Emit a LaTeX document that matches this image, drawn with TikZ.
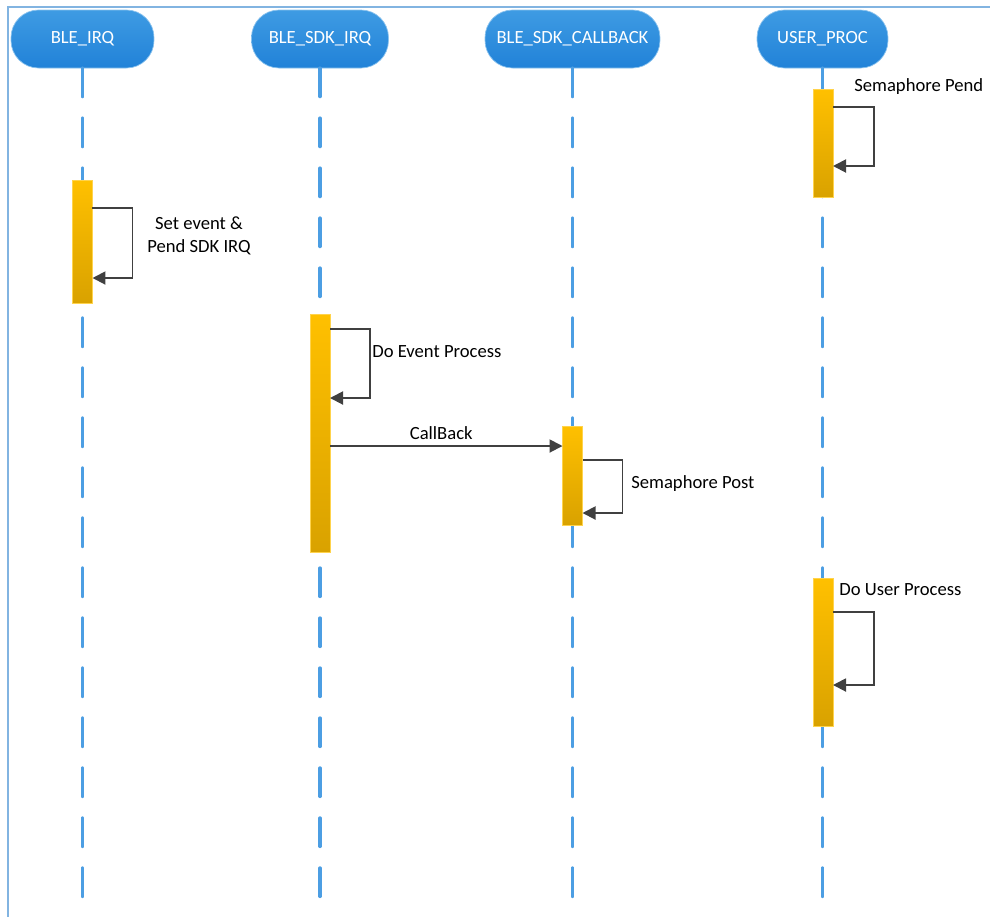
\documentclass[tikz,border=0pt]{standalone}
\usepackage{fontspec}
\setmainfont{Carlito}
\usetikzlibrary{arrows.meta}
\definecolor{lifeblue}{RGB}{76,158,227}
\definecolor{headtop}{RGB}{62,155,227}
\definecolor{headbot}{RGB}{33,130,216}
\definecolor{acttop}{RGB}{255,192,0}
\definecolor{actbot}{RGB}{217,162,0}
\definecolor{msggray}{RGB}{64,64,64}
\definecolor{frameblue}{RGB}{130,180,225}
\tikzstyle{head} = [rounded corners=0.55cm, minimum height=1.16cm, top color=headtop, bottom color=headbot, draw=headtop!60!white, line width=0.4pt, text=white, inner sep=0pt]
\tikzstyle{life} = [lifeblue, line width=2.2pt, line cap=round, dash pattern=on 0.56cm off 0.44cm]
\tikzstyle{act} = [rectangle, minimum width=0.4cm, inner sep=0pt, outer sep=0pt, top color=acttop, bottom color=actbot, draw=acttop!70!white, line width=0.3pt]
\tikzstyle{msg} = [msggray, line width=1.1pt, -{Triangle[length=0.26cm,width=0.26cm]}]

\begin{document}
\begin{tikzpicture}[x=0.02cm, y=-0.02cm, font=\fontsize{10.6}{12.8}\selectfont]
                \useasboundingbox (0,0) rectangle (990,917);
                \draw[frameblue, line width=1.2pt] (990,7) -- (8,7) -- (8,917);

                \node[head, minimum width=2.86cm] (ble) at (82.5,39) {BLE\_IRQ};
                \node[head, minimum width=2.74cm] (sdk) at (320,39) {BLE\_SDK\_IRQ};
                \node[head, minimum width=3.5cm] (cb) at (572.5,39) {BLE\_SDK\_CALLBACK};
                \node[head, minimum width=2.62cm] (user) at (822.5,39) {USER\_PROC};

                \coordinate (bleend) at (82.5,905);
                \coordinate (sdkend) at (320,905);
                \coordinate (cbend) at (572.5,910);
                \coordinate (userend) at (822.5,905);
                \draw[life] (ble) -- (bleend);
                \draw[life] (sdk) -- (sdkend);
                \draw[life] (cb) -- (cbend);
                \draw[life] (user) -- (userend);

                \node[act, minimum height=2.46cm] (irqact) at (82.5,241.5) {};
                \node[act, minimum height=4.76cm] (sdkact) at (320,433) {};
                \node[act, minimum height=1.98cm] (cbact) at (572.5,475.5) {};
                \node[act, minimum height=2.16cm] (pendact) at (823,143) {};
                \node[act, minimum height=2.96cm] (procact) at (823,652) {};

                \draw[msg] (irqact.east |- 0,208) -- ++(40,0) |- (irqact.east |- 0,278);
                \node[align=center] (irqlabel) at (199,236) {Set event \&\\Pend SDK IRQ};

                \draw[msg] (sdkact.east |- 0,329) -- ++(40,0) |- (sdkact.east |- 0,398);
                \node[anchor=west, inner sep=0pt] (sdklabel) at (372,352) {Do Event Process};

                \draw[msg] (sdkact.east |- 0,446) -- node[above, xshift=-0.1cm, text=black] (cblabel) {CallBack} (cbact.west |- 0,446);

                \draw[msg] (cbact.east |- 0,460) -- ++(40,0) |- (cbact.east |- 0,513);
                \node[anchor=west, inner sep=0pt] (postlabel) at (631,484) {Semaphore Post};

                \draw[msg] (pendact.east |- 0,107) -- ++(41,0) |- (pendact.east |- 0,166);
                \node[anchor=west, inner sep=0pt] (pendlabel) at (854,87) {Semaphore Pend};

                \draw[msg] (procact.east |- 0,612) -- ++(41,0) |- (procact.east |- 0,685);
                \node[anchor=west, inner sep=0pt] (proclabel) at (839,590) {Do User Process};
            \end{tikzpicture}
\end{document}
